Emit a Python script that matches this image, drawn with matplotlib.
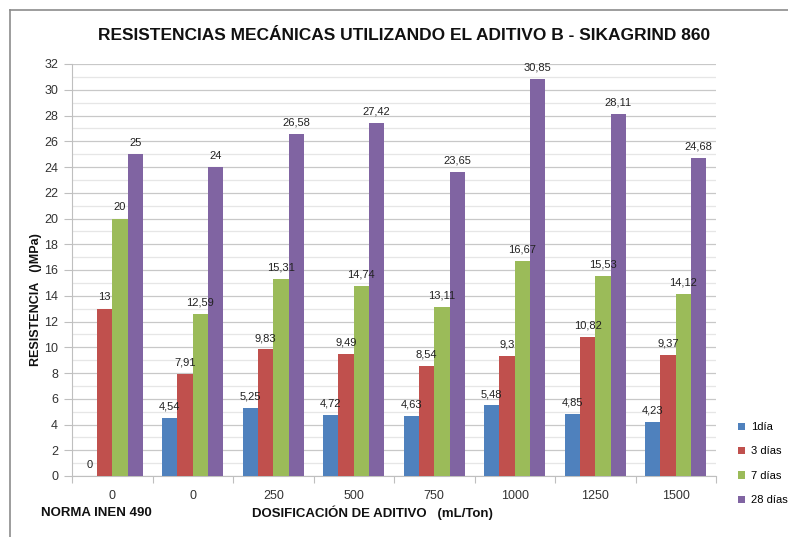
import matplotlib.pyplot as plt
import numpy as np
from matplotlib.lines import Line2D

categories = ['0', '0', '250', '500', '750', '1000', '1250', '1500']
series = ['1día', '3 días', '7 días', '28 días']
dia1 = [0, 4.54, 5.25, 4.72, 4.63, 5.48, 4.85, 4.23]
dia3 = [13, 7.91, 9.83, 9.49, 8.54, 9.3, 10.82, 9.37]
dia7 = [20, 12.59, 15.31, 14.74, 13.11, 16.67, 15.53, 14.12]
dia28 = [25, 24, 26.58, 27.42, 23.65, 30.85, 28.11, 24.68]
colors = ['#4F81BD', '#C0504D', '#9BBB59', '#8064A2']

plt.rcParams['font.family'] = ['Liberation Sans', 'DejaVu Sans']

fig = plt.figure(figsize=(7.88, 5.37), dpi=100)
W, H = 788, 537
ax = fig.add_axes([72 / W, 1 - 476 / H, (716 - 72) / W, (476 - 64) / H])

x = np.arange(len(categories))
bw = 0.19
for i, (vals, name) in enumerate(zip([dia1, dia3, dia7, dia28], series)):
    pos = x + (i - 1.5) * bw
    ax.bar(pos, vals, bw, color=colors[i], label=name, zorder=3)
    for p, v in zip(pos, vals):
        lab = ('%g' % v).replace('.', ',')
        ax.text(p, v + 0.5, lab, ha='center', va='bottom', fontsize=8,
                color='#222222', zorder=4)

ax.set_xlim(-0.5, len(categories) - 0.5)
ax.set_ylim(0, 32)
ax.set_yticks(np.arange(0, 33, 2))
ax.set_yticks(np.arange(1, 32, 2), minor=True)
ax.grid(axis='y', which='major', color='#c8c8c8', linewidth=0.9, zorder=0)
ax.grid(axis='y', which='minor', color='#e6e6e6', linewidth=0.9, zorder=0)
ax.tick_params(axis='y', which='minor', length=0)
ax.tick_params(axis='y', which='major', length=6, color='#bfbfbf', labelsize=9,
               labelcolor='#333333', pad=4)
ax.set_xticks(np.arange(-0.5, len(categories), 1))
ax.set_xticklabels([])
ax.set_xticks(x, minor=True)
ax.set_xticklabels(categories, minor=True)
ax.tick_params(axis='x', which='major', length=5, color='#bfbfbf')
ax.tick_params(axis='x', which='minor', length=0, labelsize=9,
               labelcolor='#333333', pad=10)
for s in ['top', 'right']:
    ax.spines[s].set_visible(False)
for s in ['left', 'bottom']:
    ax.spines[s].set_color('#bfbfbf')

fig.text(404 / W, 1 - 36 / H, 'RESISTENCIAS MECÁNICAS UTILIZANDO EL ADITIVO B - SIKAGRIND 860',
         ha='center', va='center', fontsize=12.5, fontweight='bold', color='#111111')
fig.text(36 / W, 1 - 300 / H, 'RESISTENCIA   ()MPa)', rotation=90, ha='center',
         va='center', fontsize=9, fontweight='bold', color='#111111')
fig.text(41 / W, 1 - 513 / H, 'NORMA INEN 490', ha='left', va='center',
         fontsize=9.5, fontweight='bold', color='#111111')
fig.text(252 / W, 1 - 513 / H, 'DOSIFICACIÓN DE ADITIVO   (mL/Ton)', ha='left',
         va='center', fontsize=9.5, fontweight='bold', color='#111111')

ax.legend(loc='upper left', bbox_to_anchor=(738 / W, 1 - 422 / H),
          bbox_transform=fig.transFigure, frameon=False, fontsize=8,
          handlelength=0.6, handleheight=0.6, labelspacing=1.3,
          handletextpad=0.6, borderaxespad=0, borderpad=0)

fig.add_artist(Line2D([10 / W, 10 / W], [0, 1 - 10 / H], transform=fig.transFigure,
                      color='#8c8c8c', linewidth=1.2))
fig.add_artist(Line2D([10 / W, 1], [1 - 10 / H, 1 - 10 / H], transform=fig.transFigure,
                      color='#8c8c8c', linewidth=1.2))

fig.savefig('out.png', dpi=100)
